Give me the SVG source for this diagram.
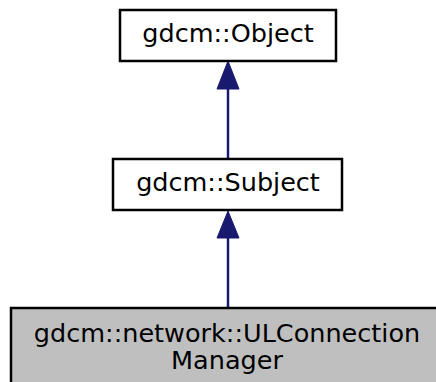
<svg xmlns="http://www.w3.org/2000/svg" width="436" height="382" viewBox="0 0 436 382">
<style>
.box{fill:#ffffff;stroke:#000000;stroke-width:2.5}
.cur{fill:#bfbfbf;stroke:#000000;stroke-width:2.5}
.t{font-family:"DejaVu Sans",sans-serif;font-size:25.5px;fill:#000000;text-anchor:middle}
.edge{stroke:#191970;stroke-width:2.5;fill:none}
.head{fill:#191970;stroke:#191970;stroke-width:1}
</style>
<rect width="436" height="382" fill="#ffffff"/>
<g id="connectors">
<path class="edge" d="M228,159 L228,89"/>
<polygon class="head" points="228,61 239,89 217,89"/>
<path class="edge" d="M228,307 L228,238"/>
<polygon class="head" points="228,211 239,238 217,238"/>
</g>
<g id="node-object">
<rect class="box" x="120" y="10" width="216" height="51"/>
<text class="t" x="228" y="42">gdcm::Object</text>
</g>
<g id="node-subject">
<rect class="box" x="113" y="159" width="229" height="51"/>
<text class="t" x="228" y="191">gdcm::Subject</text>
</g>
<g id="node-ulconnectionmanager">
<rect class="cur" x="11" y="308" width="434" height="90"/>
<text class="t" x="227" y="342">gdcm::network::ULConnection</text>
<text class="t" x="227" y="369">Manager</text>
</g>
</svg>
